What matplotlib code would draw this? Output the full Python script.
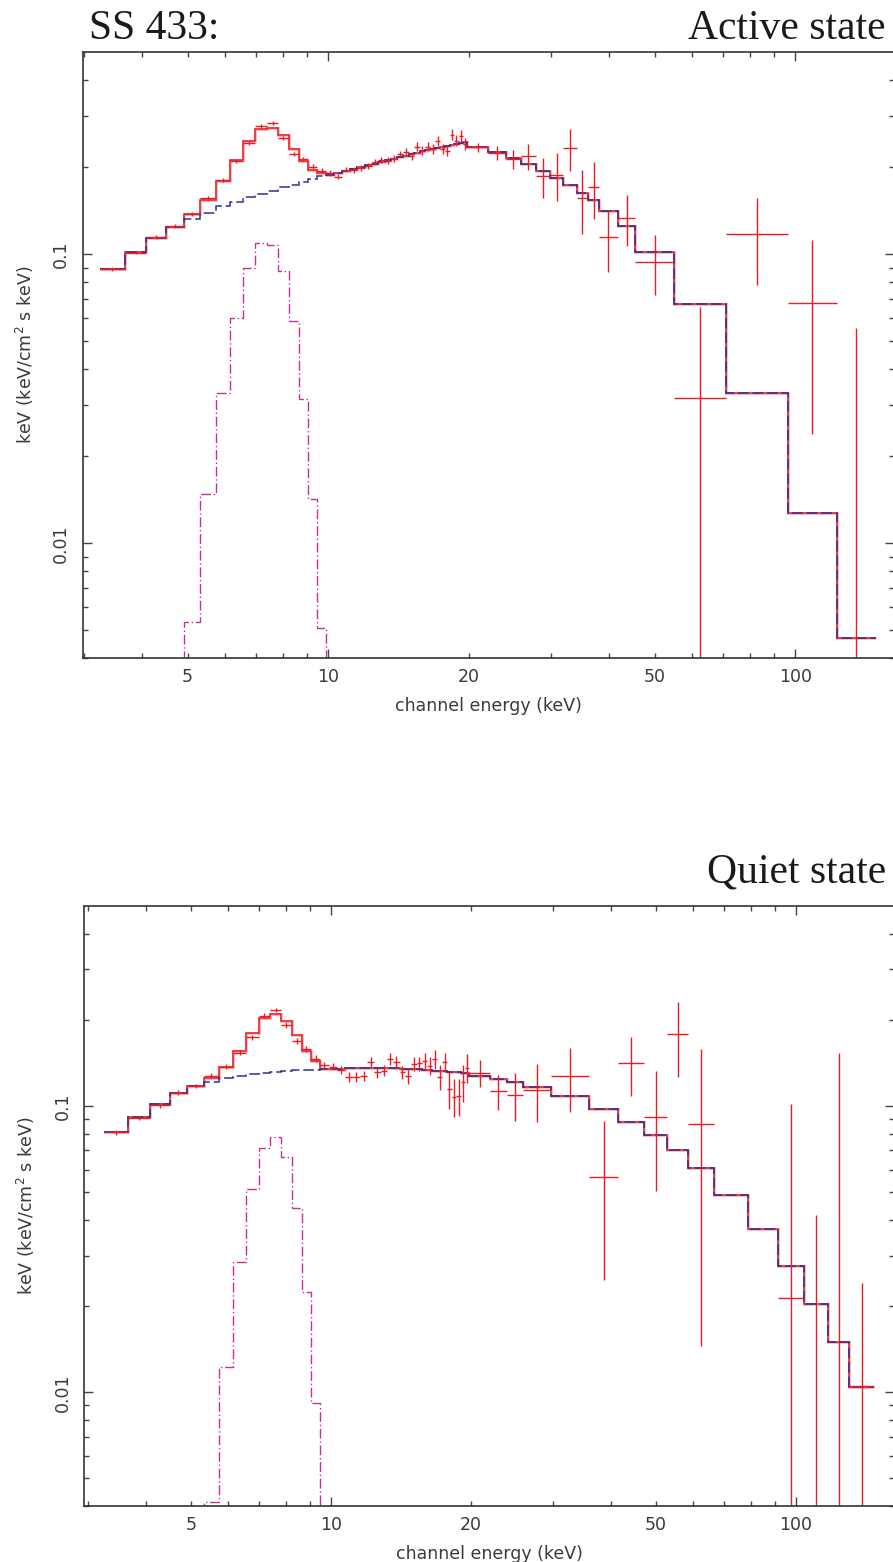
import numpy as np
import matplotlib
matplotlib.use('Agg')
import matplotlib.pyplot as plt
from matplotlib.ticker import FixedLocator, FuncFormatter, NullFormatter

# JEM-X channel bins (keV), same grid for both states
jemx_edges = [3.25, 3.665, 4.08, 4.495, 4.91, 5.325, 5.74, 6.155, 6.57, 6.985,
              7.40, 7.815, 8.23, 8.645, 9.06, 9.475, 9.89, 10.305, 10.72, 11.135,
              11.55, 11.965, 12.38, 12.795, 13.21, 13.625, 14.04, 14.455, 14.87, 15.285,
              15.70, 16.115, 16.53, 16.945, 17.36, 17.775, 18.19, 18.605, 19.02, 19.435,
              19.85]

# ---- Active state ----
active_isgri_edges = [19.85, 22.0, 23.99, 25.82, 27.81, 29.83, 31.86, 34.03, 36.04,
                      37.99, 41.67, 45.44, 54.99, 70.96, 96.3, 122.7, 148.7]
active_cont = [0.0887, 0.1019, 0.1136, 0.1241, 0.1330, 0.1395, 0.1464, 0.1519, 0.1573, 0.1616,
               0.1659, 0.1704, 0.1736, 0.1782, 0.1821, 0.1861, 0.188, 0.191, 0.194, 0.197,
               0.2005, 0.203, 0.206, 0.2088, 0.2115, 0.2142, 0.2168, 0.2195, 0.2225, 0.2248,
               0.227, 0.229, 0.231, 0.233, 0.2352, 0.2372, 0.239, 0.2408, 0.2425, 0.2442]
active_line = [0, 0, 0, 0, 0.00533, 0.01479, 0.0331, 0.0603, 0.0900, 0.1092,
               0.108, 0.0875, 0.0587, 0.0316, 0.01422, 0.00509, 0, 0, 0, 0,
               0, 0, 0, 0, 0, 0, 0, 0, 0, 0,
               0, 0, 0, 0, 0, 0, 0, 0, 0, 0]
active_isgri_model = [0.2358, 0.2265, 0.2160, 0.2053, 0.1946, 0.1840, 0.1732, 0.1628,
                      0.1536, 0.1407, 0.1254, 0.1019, 0.0671, 0.0332, 0.01274, 0.00469]
active_jemx_flux = [0.0887, 0.1014, 0.1148, 0.1254, 0.1377, 0.1568, 0.1807, 0.2103, 0.2428, 0.2775,
                    0.2842, 0.2522, 0.2225, 0.2138, 0.2009, 0.1946, 0.1910, 0.1855, 0.1962, 0.1957,
                    0.1988, 0.2025, 0.2081, 0.2120, 0.2109, 0.2149, 0.2225, 0.2265, 0.2194, 0.2358,
                    0.2284, 0.2358, 0.2315, 0.2473, 0.2315, 0.2284, 0.2595, 0.2473, 0.2575, 0.2408]
active_jemx_err = [0.0015, 0.0015, 0.002, 0.002, 0.002, 0.0025, 0.003, 0.003, 0.004, 0.004,
                   0.004, 0.004, 0.004, 0.004, 0.004, 0.004, 0.004, 0.004, 0.004, 0.004,
                   0.005, 0.005, 0.005, 0.005, 0.006, 0.006, 0.006, 0.007, 0.007, 0.008,
                   0.008, 0.008, 0.009, 0.010, 0.010, 0.010, 0.011, 0.011, 0.012, 0.012]
active_isgri_flux = [0.2347, 0.2242, 0.2138, 0.2183, 0.1861, 0.1885, 0.2328, 0.1568,
                     0.1708, 0.1148, 0.1340, 0.0943, 0.0318, 0.1176, 0.0678, 0.001]
active_isgri_err = [0.009, 0.012, 0.016, 0.022, 0.030, 0.036, 0.039, 0.039,
                    0.038, 0.028, 0.027, 0.022, 0.034, 0.039, 0.044, 0.0546]

# ---- Quiet state ----
quiet_isgri_edges = [19.85, 21.97, 23.87, 25.84, 29.72, 35.93, 41.47, 47.11, 52.86,
                     58.67, 66.73, 78.97, 91.6, 104.2, 117.3, 130.2, 147.4]
quiet_cont = [0.0809, 0.0913, 0.1016, 0.1107, 0.1170, 0.1215, 0.1250, 0.1275, 0.1293, 0.1307,
              0.1318, 0.1326, 0.1332, 0.1337, 0.1341, 0.1344, 0.1346, 0.1350, 0.1353, 0.1355,
              0.1356, 0.1357, 0.1357, 0.1356, 0.1355, 0.1353, 0.1351, 0.1348, 0.1345, 0.1342,
              0.1338, 0.1334, 0.1330, 0.1326, 0.1322, 0.1318, 0.1315, 0.1312, 0.1309, 0.1307]
quiet_line = [0, 0, 0, 0, 0, 0.00413, 0.01229, 0.02844, 0.0512, 0.0715,
              0.0777, 0.0662, 0.0441, 0.02235, 0.0092, 0, 0, 0, 0, 0,
              0, 0, 0, 0, 0, 0, 0, 0, 0, 0,
              0, 0, 0, 0, 0, 0, 0, 0, 0, 0]
quiet_isgri_model = [0.1273, 0.1243, 0.1216, 0.1168, 0.1083, 0.0979, 0.0882, 0.0790,
                     0.0700, 0.0606, 0.0489, 0.0371, 0.0277, 0.0204, 0.01502, 0.01046]
quiet_jemx_flux = [0.0809, 0.0910, 0.1008, 0.1113, 0.1174, 0.1276, 0.1372, 0.1536, 0.1738, 0.2067,
                   0.2164, 0.1918, 0.1690, 0.1581, 0.1463, 0.1390, 0.1372, 0.1335, 0.1260, 0.1266,
                   0.1276, 0.1421, 0.1311, 0.1328, 0.1456, 0.1421, 0.1311, 0.1276, 0.1401, 0.1409,
                   0.1436, 0.1382, 0.1459, 0.1266, 0.1421, 0.1144, 0.1078, 0.1086, 0.1210, 0.1361]
quiet_jemx_err = [0.0015, 0.0015, 0.002, 0.002, 0.002, 0.0025, 0.003, 0.003, 0.0035, 0.004,
                  0.004, 0.004, 0.004, 0.004, 0.004, 0.004, 0.004, 0.004, 0.005, 0.005,
                  0.005, 0.006, 0.006, 0.006, 0.007, 0.007, 0.007, 0.008, 0.008, 0.008,
                  0.009, 0.010, 0.011, 0.013, 0.011, 0.017, 0.016, 0.016, 0.018, 0.016]
quiet_isgri_flux = [0.1307, 0.1128, 0.1093, 0.1137, 0.1273, 0.0566, 0.1416, 0.0913,
                    0.1784, 0.0865, np.nan, np.nan, 0.0214, 0.002, 0.001, 0.0105]
quiet_isgri_err = [0.014, 0.016, 0.021, 0.026, 0.032, 0.032, 0.033, 0.041,
                   0.052, 0.072, np.nan, np.nan, 0.080, 0.0396, 0.1526, 0.0136]

RED = '#ec1c24'
NAVY = '#2e3192'
MAGENTA = '#c42f98'
W, H = 893, 1562


def draw_state(ax, isgri_edges, cont, line, isgri_model, jflux, jerr, iflux, ierr, xlim):
    e_j = np.array(jemx_edges)
    e_i = np.array(isgri_edges)
    cont = np.array(cont)
    line = np.array(line)
    edges_all = np.concatenate([e_j, e_i[1:]])
    total = np.concatenate([cont + line, isgri_model])
    continuum = np.concatenate([cont, isgri_model])

    ax.stairs(total, edges_all, color='#f8b6b8', lw=2.0, baseline=None)
    ax.stairs(total, edges_all, color=RED, lw=1.1, baseline=None)
    ax.stairs(continuum, edges_all, color=NAVY, lw=1.1, ls=(0, (7, 2.5)), baseline=None)
    ax.stairs(np.where(line > 0, line, 1e-5), e_j, color=MAGENTA, lw=1.0,
              ls=(0, (7, 2, 1, 2)), baseline=None)

    for edges, flux, err in ((e_j, jflux, jerr), (e_i, iflux, ierr)):
        lo, hi = edges[:-1], edges[1:]
        x = np.sqrt(lo * hi)
        y = np.array(flux, float)
        dy = np.array(err, float)
        dlo = np.minimum(dy, y - 1e-5)
        ax.errorbar(x, y, xerr=[x - lo, hi - x], yerr=[dlo, dy], fmt='none',
                    ecolor=RED, elinewidth=1.0, capsize=0)

    ax.set_xscale('log')
    ax.set_yscale('log')
    ax.set_xlim(*xlim)
    ax.set_ylim(0.004, 0.5)

    ax.xaxis.set_major_locator(FixedLocator([10, 100]))
    ax.xaxis.set_minor_locator(FixedLocator([3, 4, 5, 6, 7, 8, 9, 20, 30, 40, 50, 60, 70, 80, 90]))
    ax.xaxis.set_major_formatter(FuncFormatter(lambda v, p: '%g' % v))
    ax.xaxis.set_minor_formatter(FuncFormatter(lambda v, p: '%g' % v if round(v) in (5, 20, 50) else ''))
    ax.yaxis.set_major_locator(FixedLocator([0.01, 0.1]))
    ax.yaxis.set_minor_locator(FixedLocator([0.004, 0.005, 0.006, 0.007, 0.008, 0.009,
                                             0.02, 0.03, 0.04, 0.05, 0.06, 0.07, 0.08, 0.09,
                                             0.2, 0.3, 0.4]))
    ax.yaxis.set_major_formatter(FuncFormatter(lambda v, p: '%g' % v))
    ax.yaxis.set_minor_formatter(NullFormatter())

    ax.tick_params(which='both', direction='in', top=True, right=True,
                   color='#444444', labelcolor='#3a3a3a', labelsize=12.5, width=1.0)
    ax.tick_params(which='major', length=6.5)
    ax.tick_params(which='minor', length=3.6)
    ax.tick_params(axis='x', which='both', pad=7)
    ax.tick_params(axis='y', which='both', pad=9)
    for lab in ax.get_yticklabels():
        lab.set_rotation(90)
        lab.set_va('center')
    for sp in ax.spines.values():
        sp.set_color('#333333')
        sp.set_linewidth(1.2)

    ax.set_xlabel('channel energy (keV)', fontsize=12.5, color='#3a3a3a', labelpad=8)
    ax.set_ylabel('keV (keV/cm$^2$ s keV)', fontsize=12.5, color='#3a3a3a', labelpad=12)


fig = plt.figure(figsize=(W / 100, H / 100), dpi=100)
ax1 = fig.add_axes([82.7 / W, 1 - 658.3 / H, (894 - 82.7) / W, 606 / H])
ax2 = fig.add_axes([84 / W, 1 - 1506.2 / H, (894 - 84) / W, 600.3 / H])

draw_state(ax1, active_isgri_edges, active_cont, active_line, active_isgri_model,
           active_jemx_flux, active_jemx_err, active_isgri_flux, active_isgri_err, (2.98, 162.7))
draw_state(ax2, quiet_isgri_edges, quiet_cont, quiet_line, quiet_isgri_model,
           quiet_jemx_flux, quiet_jemx_err, quiet_isgri_flux, quiet_isgri_err, (2.943, 162.5))

title_kw = dict(family='Liberation Serif', size=30, va='baseline', color='#1a1a1a')
fig.text(89 / W, 1 - 39 / H, 'SS 433:', ha='left', **title_kw)
fig.text(886 / W, 1 - 39 / H, 'Active state', ha='right', **title_kw)
fig.text(886 / W, 1 - 882 / H, 'Quiet state', ha='right', **title_kw)

fig.savefig('out.png', dpi=100)
